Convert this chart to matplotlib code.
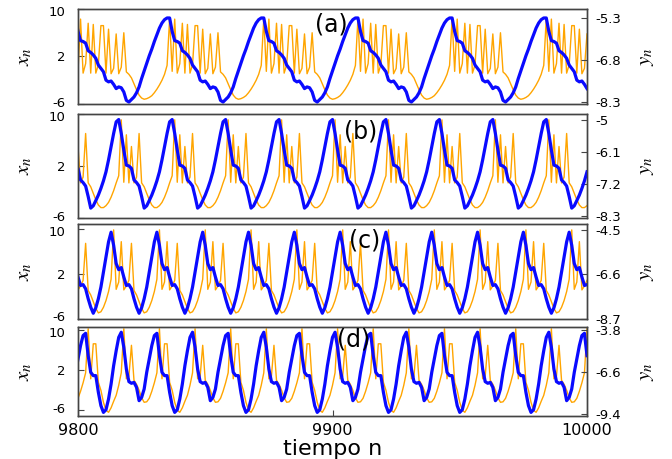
import numpy as np
import matplotlib
matplotlib.use("Agg")
import matplotlib.pyplot as plt
from matplotlib.transforms import ScaledTranslation

plt.rcParams['font.family'] = 'DejaVu Sans'
plt.rcParams['mathtext.fontset'] = 'stix'

# un ciclo de cada serie; el ciclo empieza en un maximo de y_n
# (a)
periodo_a = 37
inicio_a = 9799
xa = [8.4, -0.5, 8.3, -0.8, 0.8, 7.6, -0.8, 7.4, -0.8, 0.6, 7.2, 7.2, -0.8, 6.6, -0.9, 0.0,
      5.8, -0.9, 0.2, 6.0, -0.6, -1.0, -1.6, -2.6, -3.6, -4.5, -5.0, -5.2, -5.1, -4.9, -4.6,
      -4.1, -3.5, -2.8, -2.0, -1.0, 0.5]
ya = [-5.3, -5.78, -6.11, -6.14, -6.2, -6.47, -6.53, -6.62, -6.74, -6.98, -7.1, -7.22, -7.52,
      -7.58, -7.55, -7.67, -7.82, -7.76, -7.79, -7.94, -8.24, -8.3, -8.21, -8.12, -7.97, -7.76,
      -7.46, -7.19, -6.92, -6.65, -6.41, -6.14, -5.9, -5.66, -5.48, -5.36, -5.3]
# (b)
periodo_b = 21
inicio_b = 9795
xb = [0.5, 9.1, -0.5, 6.8, -0.6, 5.0, -0.6, 0.3, 7.0, -0.6, -1.2, -2.2, -3.2, -4.0, -4.4,
      -4.4, -4.1, -3.6, -2.8, -1.8, -0.6]
yb = [-4.98, -5.46, -6.03, -6.55, -6.58, -6.66, -7.06, -7.15, -7.27, -7.63, -8.03, -7.95,
      -7.77, -7.58, -7.35, -7.09, -6.78, -6.37, -5.92, -5.46, -5.06]
# (c)
periodo_c = 18
inicio_c = 9795
xc = [1.0, 9.8, -0.8, 0.5, 7.7, -0.9, -0.2, 0.8, 7.4, -1.0, -1.8, -3.0, -4.2, -5.0, -4.8,
      -4.0, -2.8, -1.2]
yc = [-4.6, -5.22, -6.09, -6.38, -6.28, -6.73, -7.13, -7.09, -7.29, -7.76, -8.16, -8.45,
      -8.19, -7.76, -7.21, -6.49, -5.78, -5.06]
# (d) dos ciclos distintos alternados
periodo_d = 28
inicio_d = 9775
xd = [1.5, 10.3, 0.3, 7.3, 7.3, -0.4, -2.0, -4.4, -6.0, -6.4, -5.5, -4.2, -3.0, -1.0,
      1.5, 10.3, 0.3, 0.8, 7.0, 0.0, -0.8, -2.0, -3.5, -4.4, -4.3, -3.6, -2.2, -0.5]
yd = [-4.0, -5.49, -6.6, -6.82, -6.82, -7.93, -8.82, -9.27, -9.09, -8.38, -7.38, -6.16, -5.16, -4.27,
      -3.93, -4.93, -6.38, -7.22, -7.33, -7.27, -7.6, -8.49, -8.27, -7.71, -6.6, -5.71, -4.82, -4.15]

n_ini, n_fin = 9800, 10000
xticks_n = [9800, 9900, 10000]
xticks_lab = ["9800", "9900", "10000"]
ticks_izq = [10, 2, -6]
lims_izq = [(-6, 10), (-6, 10), (-6, 10.85), (-7.14, 10.66)]
ticks_der = [[-5.3, -6.8, -8.3], [-5, -6.1, -7.2, -8.3], [-4.5, -6.6, -8.7], [-3.8, -6.6, -9.4]]
lab_der = [["-5.3", "-6.8", "-8.3"], ["-5", "-6.1", "-7.2", "-8.3"], ["-4.5", "-6.6", "-8.7"],
           ["-3.8", "-6.6", "-9.4"]]
lims_der = [(-8.37, -4.98), (-8.37, -4.79), (-8.7, -4.21), (-9.51, -3.58)]
letras = ["(a)", "(b)", "(c)", "(d)"]
pos_letra = [(0.497, 0.842), (0.556, 0.832), (0.564, 0.83), (0.542, 0.865)]

series = [(periodo_a, inicio_a, xa, ya), (periodo_b, inicio_b, xb, yb),
          (periodo_c, inicio_c, xc, yc), (periodo_d, inicio_d, xd, yd)]

# posiciones de los paneles en pixeles (arriba, abajo)
W, H = 672, 459
izq_px, der_px = 78, 587
filas_px = [(9, 104), (114, 218), (224, 318.5), (327, 416)]

fig = plt.figure(figsize=(W / 100, H / 100), dpi=100)
gris = '#444444'

for i, (per, ini, cx, cy) in enumerate(series):
    arriba, abajo = filas_px[i]
    ax = fig.add_axes([izq_px / W, 1 - abajo / H, (der_px - izq_px) / W, (abajo - arriba) / H])
    ax2 = ax.twinx()

    n = np.arange(ini, n_fin + 1)
    k = (n - ini) % per
    ax.plot(n, np.array(cx)[k], color='#ffa500', lw=1.0)
    ax2.plot(n, np.array(cy)[k], color='#0a0aff', lw=2.3, solid_joinstyle='round')

    ax.set_xlim(n_ini, n_fin)
    ax.set_ylim(*lims_izq[i])
    ax2.set_ylim(*lims_der[i])
    ax.set_yticks(ticks_izq)
    ax.set_yticklabels([str(t) for t in ticks_izq])
    ax2.set_yticks(ticks_der[i])
    ax2.set_yticklabels(lab_der[i])
    if i == 3:
        ax.set_xticks(xticks_n)
        ax.set_xticklabels(xticks_lab, fontsize=11.5)
        ax.set_xlabel("tiempo n", fontsize=16, labelpad=1)
    else:
        ax.set_xticks([])

    ax.tick_params(axis='y', direction='in', length=4, labelsize=9.5, pad=9, color=gris)
    ax.tick_params(axis='x', direction='in', length=4, pad=5, color=gris)
    ax2.tick_params(axis='y', direction='in', length=4, labelsize=9.5, pad=6, color=gris)
    # separar un poco las etiquetas extremas de paneles vecinos
    lbls = ax.get_yticklabels()
    lbls[0].set_transform(lbls[0].get_transform() + ScaledTranslation(0, -1.5 / 72, fig.dpi_scale_trans))
    lbls[-1].set_transform(lbls[-1].get_transform() + ScaledTranslation(0, 1.5 / 72, fig.dpi_scale_trans))
    for a in (ax, ax2):
        for s in a.spines.values():
            s.set_color(gris)
            s.set_linewidth(1.0)

    yc_px = (arriba + abajo) / 2
    fig.text(24 / W, 1 - yc_px / H, r'$x_n$', rotation=90, ha='center', va='center', fontsize=15)
    fig.text(646 / W, 1 - yc_px / H, r'$y_n$', rotation=90, ha='center', va='center', fontsize=15)
    ax2.text(pos_letra[i][0], pos_letra[i][1], letras[i], transform=ax.transAxes,
             ha='center', va='center', fontsize=17, zorder=10)

fig.savefig("out.png", dpi=100)
